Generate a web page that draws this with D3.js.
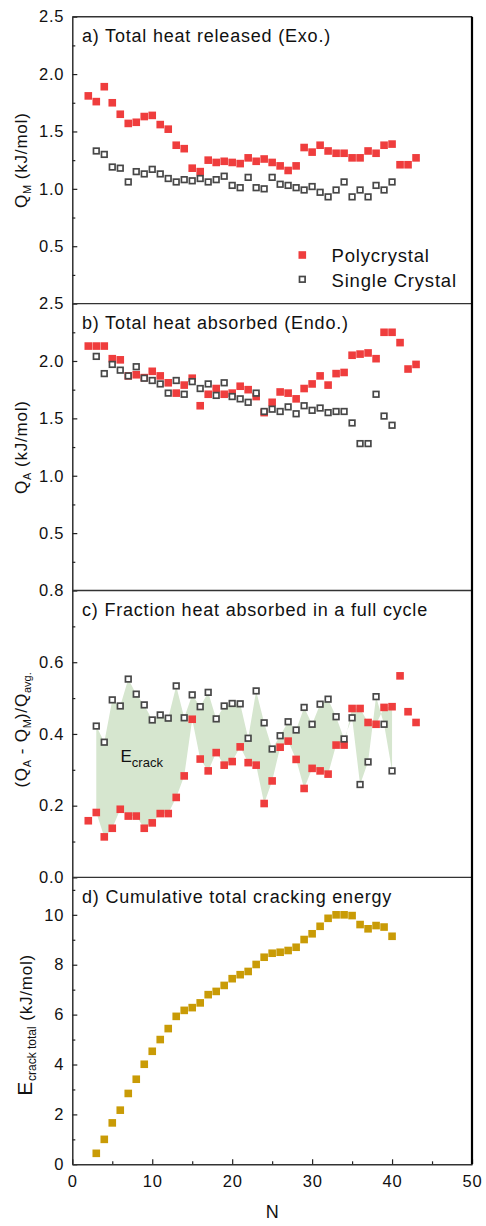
<!DOCTYPE html>
<html>
<head>
<meta charset="utf-8">
<script src="https://cdn.jsdelivr.net/npm/d3@7"></script>
<style>
  body { margin: 0; background: #fff; }
  text { font-family: "Liberation Sans", Arial, sans-serif; fill: #111; }
</style>
</head>
<body>
<div id="container"></div>
<script>
// cycle numbers
const nPoly = [2,3,4,5,6,7,8,9,10,11,12,13,14,15,16,17,18,19,20,21,22,23,24,25,26,27,28,29,30,31,32,33,34,35,36,37,38,39,40,41,42,43];
const nSingle = [3,4,5,6,7,8,9,10,11,12,13,14,15,16,17,18,19,20,21,22,23,24,25,26,27,28,29,30,31,32,33,34,35,36,37,38,39,40];

// a) Q_M, heat released (kJ/mol)
const polyQM = [1.81,1.76,1.89,1.75,1.65,1.57,1.58,1.63,1.64,1.56,1.52,1.38,1.35,1.18,1.15,1.25,1.23,1.24,1.23,1.22,1.27,1.24,1.26,1.23,1.20,1.16,1.20,1.36,1.32,1.38,1.33,1.31,1.31,1.27,1.27,1.33,1.31,1.38,1.39,1.21,1.21,1.27];
const singleQM = [1.33,1.30,1.19,1.18,1.06,1.15,1.13,1.17,1.13,1.09,1.06,1.08,1.07,1.09,1.06,1.08,1.11,1.03,1.01,1.10,1.01,1.00,1.10,1.04,1.03,1.01,0.99,1.02,0.97,0.93,0.99,1.06,0.93,0.99,0.93,1.03,0.99,1.06];

// b) Q_A, heat absorbed (kJ/mol)
const polyQA = [2.13,2.13,2.13,2.02,2.01,1.87,1.88,1.855,1.91,1.87,1.81,1.72,1.79,1.85,1.61,1.71,1.76,1.71,1.72,1.78,1.75,1.69,1.55,1.64,1.73,1.72,1.67,1.76,1.80,1.87,1.79,1.89,1.90,2.05,2.06,2.07,2.02,2.25,2.25,2.16,1.93,1.97];
const singleQA = [2.04,1.89,1.97,1.92,1.87,1.95,1.85,1.83,1.80,1.72,1.83,1.71,1.82,1.76,1.80,1.70,1.81,1.69,1.67,1.64,1.72,1.56,1.58,1.56,1.60,1.54,1.61,1.57,1.59,1.55,1.56,1.56,1.46,1.28,1.28,1.71,1.52,1.44];

// c) (Q_A - Q_M)/Q_avg
const polyFrac = [0.158,0.181,0.113,0.137,0.19,0.171,0.171,0.137,0.152,0.178,0.178,0.223,0.283,0.441,0.33,0.297,0.348,0.313,0.323,0.364,0.32,0.313,0.206,0.269,0.363,0.38,0.329,0.248,0.304,0.297,0.288,0.369,0.369,0.471,0.471,0.432,0.427,0.474,0.476,0.562,0.462,0.432];
const singleFrac = [0.422,0.377,0.495,0.478,0.553,0.511,0.481,0.439,0.453,0.444,0.534,0.445,0.509,0.476,0.516,0.442,0.478,0.485,0.484,0.388,0.52,0.431,0.358,0.395,0.434,0.411,0.474,0.427,0.483,0.497,0.448,0.386,0.445,0.259,0.322,0.504,0.427,0.297];

// d) cumulative total cracking energy (kJ/mol)
const crackTotal = [0.44,1.0,1.66,2.17,2.84,3.41,4.01,4.53,5.0,5.44,5.93,6.17,6.28,6.47,6.8,6.93,7.17,7.44,7.6,7.73,8.01,8.3,8.46,8.5,8.57,8.7,9.01,9.24,9.54,9.86,10.0,10.0,9.97,9.61,9.44,9.57,9.51,9.14];

const xTicks = [0,10,20,30,40,50];
const xMinor = [5,15,25,35,45];

const width = 486, height = 1226;
const plotLeft = 72.3, plotRight = 472, plotTop = 16.7, panelH = 286.9;
const red = "#ef3d3d", gray = "#474747", gold = "#c99b06", green = "#d6e6cf";

const svg = d3.select("#container")
  .append("svg")
  .attr("width", width)
  .attr("height", height);

const x = d3.scaleLinear().domain([0, 50]).range([plotLeft, plotRight]);

const panels = [
  { title: "a) Total heat released (Exo.)", domain: [0, 2.5],
    major: [0.5,1,1.5,2,2.5], minor: [0.25,0.75,1.25,1.75,2.25], fmt: d3.format(".1f") },
  { title: "b) Total heat absorbed (Endo.)", domain: [0, 2.5],
    major: [0.5,1,1.5,2,2.5], minor: [0.25,0.75,1.25,1.75,2.25], fmt: d3.format(".1f") },
  { title: "c) Fraction heat absorbed in a full cycle", domain: [0, 0.8],
    major: [0,0.2,0.4,0.6,0.8], minor: [0.1,0.3,0.5,0.7], fmt: d3.format(".1f") },
  { title: "d) Cumulative total cracking energy", domain: [0, 11.5],
    major: [0,2,4,6,8,10], minor: [1,3,5,7,9,11], fmt: d3.format("d") }
];

panels.forEach((p, i) => {
  const top = plotTop + i * panelH;
  p.top = top;
  p.y = d3.scaleLinear().domain(p.domain).range([top + panelH, top]);
});

// green area between the two fraction series
const [pa, pb, pc, pd] = panels;
const fracPairs = nSingle.map((n, i) => ({ n: n, lo: polyFrac[nPoly.indexOf(n)], hi: singleFrac[i] }));
svg.append("path")
  .datum(fracPairs)
  .attr("fill", green)
  .attr("d", d3.area()
    .x(d => x(d.n))
    .y0(d => pc.y(d.lo))
    .y1(d => pc.y(d.hi)));

// axes
panels.forEach((p, i) => {
  const minorAx = svg.append("g")
    .attr("transform", `translate(${plotLeft},0)`)
    .call(d3.axisLeft(p.y).tickValues(p.minor).tickSize(-3).tickSizeOuter(0).tickFormat(""));
  minorAx.select(".domain").remove();

  const yAx = svg.append("g")
    .attr("transform", `translate(${plotLeft},0)`)
    .call(d3.axisLeft(p.y).tickValues(p.major).tickSize(-5).tickSizeOuter(0).tickPadding(8).tickFormat(p.fmt));
  yAx.select(".domain").attr("stroke", "#222").attr("stroke-width", 1.4);
  yAx.selectAll(".tick line").attr("stroke", "#222").attr("stroke-width", 1.2);
  minorAx.selectAll(".tick line").attr("stroke", "#222").attr("stroke-width", 1.2);
  yAx.selectAll(".tick text")
    .style("font-size", "16.5px")
    .style("letter-spacing", "0.8px")
    .attr("fill", "#111");

  // panel top border
  svg.append("line")
    .attr("x1", plotLeft).attr("x2", plotRight)
    .attr("y1", p.top).attr("y2", p.top)
    .attr("stroke", "#333").attr("stroke-width", 1.4);

  svg.append("text")
    .attr("x", 82)
    .attr("y", p.top + 25.5)
    .style("font-size", "18px")
    .style("letter-spacing", "0.8px")
    .text(p.title);
});

// bottom x axis
const bottom = plotTop + 4 * panelH;
const xMinorAx = svg.append("g")
  .attr("transform", `translate(0,${bottom})`)
  .call(d3.axisBottom(x).tickValues(xMinor).tickSize(-3).tickSizeOuter(0).tickFormat(""));
xMinorAx.select(".domain").remove();
xMinorAx.selectAll(".tick line").attr("stroke", "#222").attr("stroke-width", 1.2);
const xAx = svg.append("g")
  .attr("transform", `translate(0,${bottom})`)
  .call(d3.axisBottom(x).tickValues(xTicks).tickSize(-5).tickSizeOuter(0).tickPadding(11).tickFormat(d3.format("d")));
xAx.select(".domain").attr("stroke", "#333").attr("stroke-width", 1.6);
xAx.selectAll(".tick line").attr("stroke", "#222").attr("stroke-width", 1.2);
xAx.selectAll(".tick text")
  .style("font-size", "16.5px")
  .style("letter-spacing", "0.8px")
  .attr("fill", "#111");

// right border
svg.append("line")
  .attr("x1", plotRight).attr("x2", plotRight)
  .attr("y1", plotTop).attr("y2", bottom)
  .attr("stroke", "#000").attr("stroke-width", 2.2);

// markers
function filled(ns, vals, yScale, color) {
  svg.append("g").selectAll("rect")
    .data(ns.map((n, i) => [n, vals[i]]))
    .join("rect")
    .attr("x", d => x(d[0]) - 3.8)
    .attr("y", d => yScale(d[1]) - 3.8)
    .attr("width", 7.6)
    .attr("height", 7.6)
    .attr("fill", color);
}
function hollow(ns, vals, yScale) {
  svg.append("g").selectAll("rect")
    .data(ns.map((n, i) => [n, vals[i]]))
    .join("rect")
    .attr("x", d => x(d[0]) - 2.8)
    .attr("y", d => yScale(d[1]) - 2.8)
    .attr("width", 5.6)
    .attr("height", 5.6)
    .attr("fill", "#fff")
    .attr("stroke", gray)
    .attr("stroke-width", 1.7);
}

filled(nPoly, polyQM, pa.y, red);
hollow(nSingle, singleQM, pa.y);
filled(nPoly, polyQA, pb.y, red);
hollow(nSingle, singleQA, pb.y);
filled(nPoly, polyFrac, pc.y, red);
hollow(nSingle, singleFrac, pc.y);
filled(nSingle, crackTotal, pd.y, gold);

// legend
const legend = svg.append("g");
legend.append("rect").attr("x", 298.5).attr("y", 251.2).attr("width", 7.6).attr("height", 7.6).attr("fill", red);
legend.append("rect").attr("x", 299.5).attr("y", 276.5).attr("width", 5.6).attr("height", 5.6)
  .attr("fill", "#fff").attr("stroke", gray).attr("stroke-width", 1.7);
legend.append("text").attr("x", 331.5).attr("y", 261.7)
  .style("font-size", "18.5px").style("letter-spacing", "0.8px").text("Polycrystal");
legend.append("text").attr("x", 331.5).attr("y", 286.7)
  .style("font-size", "18.5px").style("letter-spacing", "0.8px").text("Single Crystal");

// E_crack label
const eLab = svg.append("text").attr("x", 120.5).attr("y", 761.7).style("font-size", "17px");
eLab.append("tspan").text("E");
eLab.append("tspan").attr("dy", 5).style("font-size", "13px").text("crack");

// y labels
function yLabel(cx, cy, parts) {
  const t = svg.append("text")
    .attr("transform", `translate(${cx},${cy}) rotate(-90)`)
    .attr("text-anchor", "middle")
    .style("font-size", "17px")
    .style("letter-spacing", "0.8px");
  let shift = 0;
  parts.forEach(pt => {
    const s = t.append("tspan").text(pt.t);
    const want = pt.sub ? 4 : 0;
    if (want !== shift) { s.attr("dy", want - shift); shift = want; }
    if (pt.size) s.style("font-size", pt.size + "px");
    if (pt.sub) s.style("letter-spacing", "0px");
  });
}
yLabel(27, pa.top + panelH / 2, [{ t: "Q" }, { t: "M", sub: true, size: 11 }, { t: " (kJ/mol)" }]);
yLabel(27, pb.top + panelH / 2, [{ t: "Q" }, { t: "A", sub: true, size: 11 }, { t: " (kJ/mol)" }]);
yLabel(27, pc.top + panelH / 2 - 4, [{ t: "(Q" }, { t: "A", sub: true, size: 11 }, { t: " - Q" }, { t: "M", sub: true, size: 11 }, { t: ")/Q" }, { t: "avg.", sub: true, size: 11 }]);
yLabel(32, pd.top + panelH / 2 + 4, [{ t: "E", size: 21 }, { t: "crack total", sub: true, size: 12 }, { t: " (kJ/mol)" }]);

// x label
svg.append("text")
  .attr("x", (plotLeft + plotRight) / 2)
  .attr("y", 1218)
  .attr("text-anchor", "middle")
  .style("font-size", "18px")
  .text("N");
</script>
</body>
</html>
